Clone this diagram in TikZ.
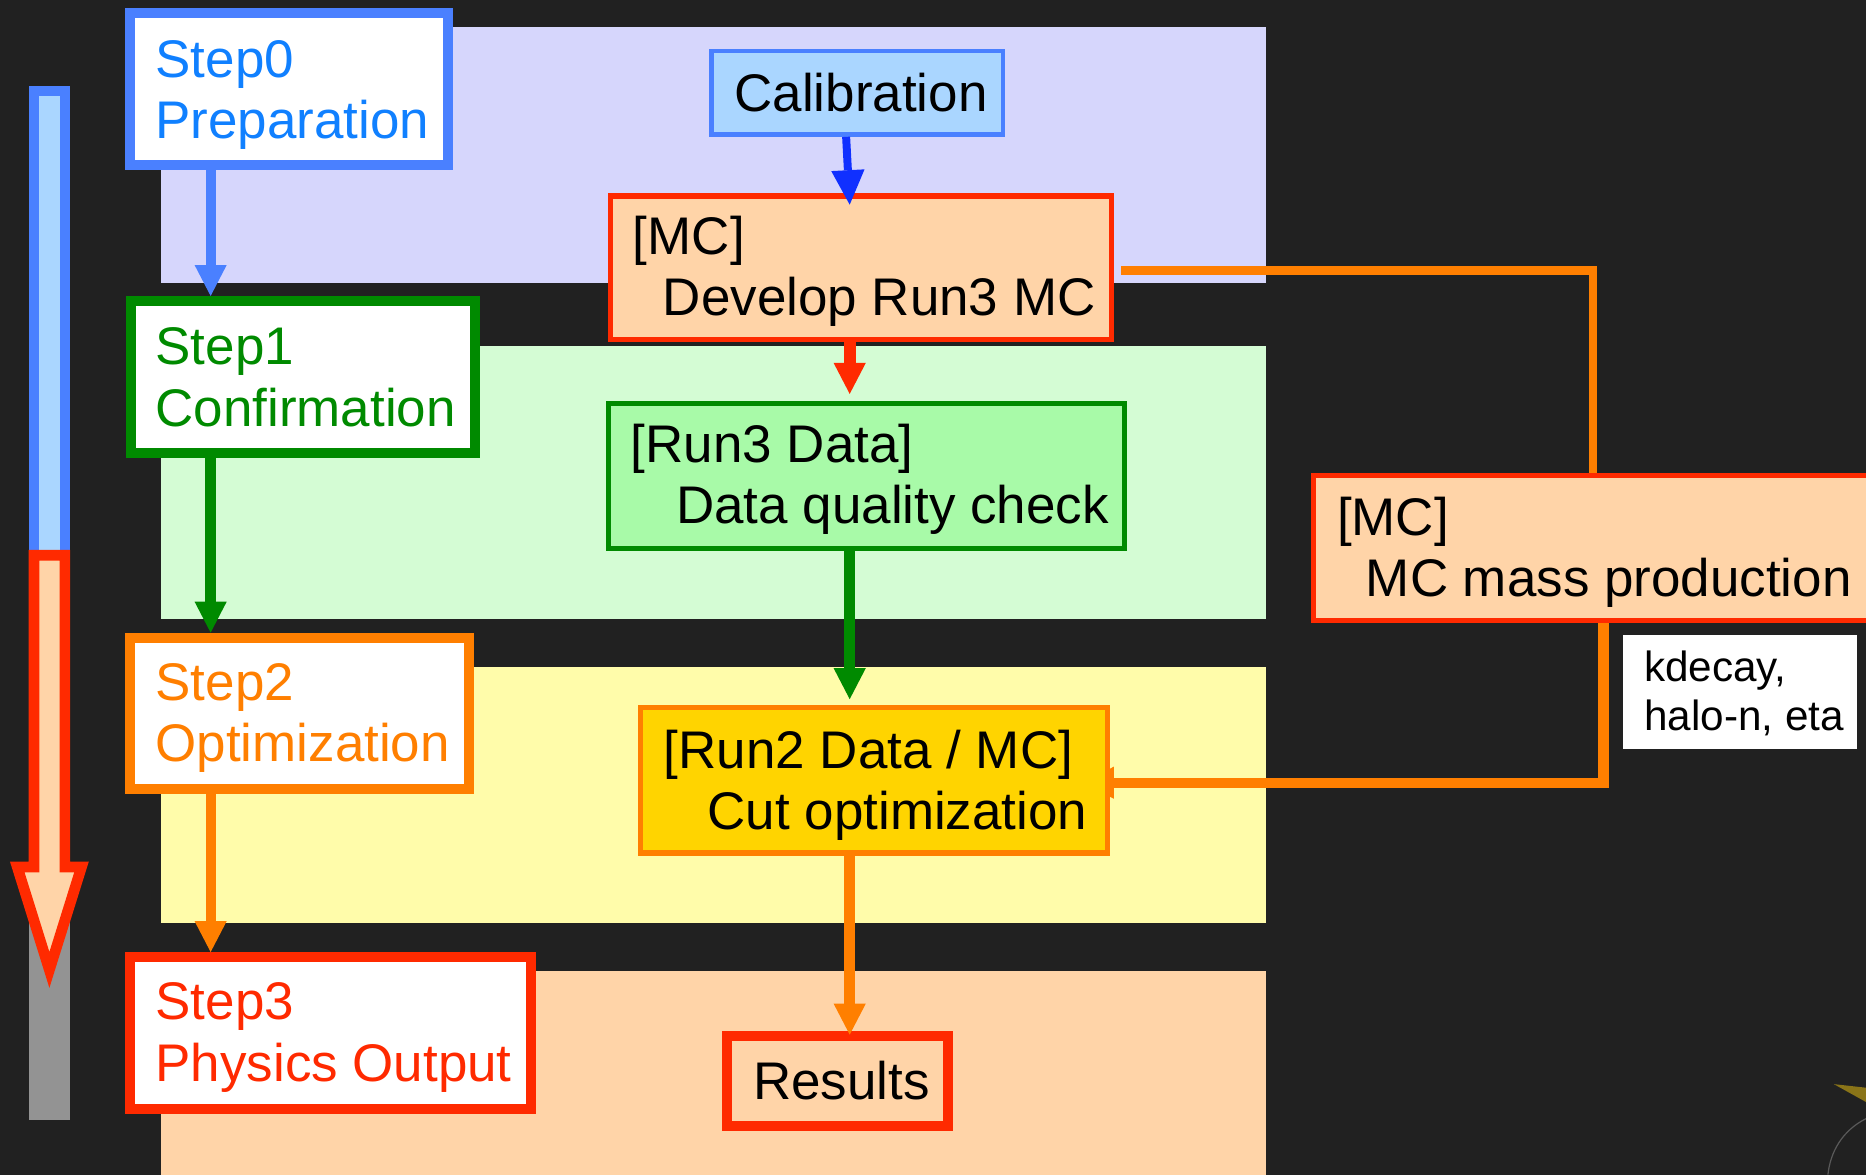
\documentclass[tikz,border=0pt]{standalone}
\usepackage{fontspec}
\setmainfont{Liberation Sans}
\usetikzlibrary{arrows.meta,calc}
\pgfdeclarelayer{bands}
\pgfdeclarelayer{conn}
\pgfsetlayers{bands,conn,main}
\definecolor{bgc}{HTML}{212121}
\definecolor{clav}{RGB}{214,214,252}
\definecolor{cgband}{RGB}{212,252,212}
\definecolor{cyel}{RGB}{255,252,170}
\definecolor{cpeach}{RGB}{255,212,168}
\definecolor{cblue}{RGB}{74,128,255}
\definecolor{cbluet}{RGB}{16,128,255}
\definecolor{cltblue}{RGB}{170,214,255}
\definecolor{cdblue}{RGB}{16,48,255}
\definecolor{cred}{RGB}{255,42,0}
\definecolor{corange}{RGB}{255,127,0}
\definecolor{cgreen}{RGB}{0,138,0}
\definecolor{cltgreen}{RGB}{168,250,168}
\definecolor{cgold}{RGB}{255,212,0}
\definecolor{cgrey}{RGB}{147,147,147}
\definecolor{cbeak}{RGB}{138,116,24}
\begin{document}
\begin{tikzpicture}[x=1pt,y=-1pt,
  stepbox/.style={draw, line width=8.5pt, fill=white, inner sep=0pt},
  midbox/.style={draw, line width=4.5pt, inner sep=0pt},
  txt/.style={inner sep=0pt, anchor=base west, font=\fontsize{44.5}{51}\selectfont},
  smalltxt/.style={inner sep=0pt, anchor=base west, font=\fontsize{35.5}{41}\selectfont},
  arr/.style={line width=9pt, -{Triangle[width=27pt,length=26pt,line width=0pt]}}
]
\useasboundingbox (0,0) rectangle (1568,987);
\begin{pgfonlayer}{bands}
  \fill[bgc] (0,0) rectangle (1568,987);
  \fill[clav] (135.3,22.5) rectangle (1064,237.5);
  \fill[cgband] (135.3,291) rectangle (1064,520);
  \fill[cyel] (135.3,560.5) rectangle (1064,775.5);
  \fill[cpeach] (135.3,815.6) rectangle (1064,987);
  % fragment of background logo
  \fill[cbeak] (1541,911) -- (1568,914) -- (1568,926) -- cycle;
  \draw[gray!60!bgc, line width=1pt] (1568,940) .. controls (1548,950) and (1538,968) .. (1536,987);
\end{pgfonlayer}

% progress bar at left
\filldraw[fill=cltblue, draw=cblue, line width=9pt] (28.5,76.5) rectangle (54.5,470);
\fill[cgrey] (24,700) rectangle (59,941);
\filldraw[fill=cpeach, draw=cred, line width=9pt, miter limit=10]
  (28.5,466.5) -- (54.5,466.5) -- (54.5,728.5) -- (68.5,728.5) -- (41.5,815)
  -- (14.5,728.5) -- (28.5,728.5) -- cycle;

% step boxes
\node[stepbox, draw=cblue, minimum width=267pt, minimum height=127.5pt] (s0) at (242.75,75) {};
\node[stepbox, draw=cgreen, minimum width=289.6pt, minimum height=127.8pt] (s1) at (254.65,316.85) {};
\node[stepbox, draw=corange, minimum width=284.8pt, minimum height=126.9pt] (s2) at (251.35,599.3) {};
\node[stepbox, draw=cred, minimum width=337pt, minimum height=127.9pt] (s3) at (277.45,868.2) {};
\node[txt, text=cbluet] (s0a) at (130.5,65) {Step0};
\node[txt, text=cbluet] (s0b) at (130.5,116) {Preparation};
\node[txt, text=cgreen] (s1a) at (130.5,306.7) {Step1};
\node[txt, text=cgreen] (s1b) at (130.5,358) {Confirmation};
\node[txt, text=corange] (s2a) at (130.5,588.4) {Step2};
\node[txt, text=corange] (s2b) at (130.5,640) {Optimization};
\node[txt, text=cred] (s3a) at (130.5,857) {Step3};
\node[txt, text=cred] (s3b) at (130.5,908.5) {Physics Output};

% middle column boxes
\node[midbox, draw=cblue, fill=cltblue, line width=3.8pt, minimum width=244.8pt, minimum height=70.2pt] (cal) at (720.3,78) {};
\node[midbox, draw=cred, fill=cpeach, minimum width=421.3pt, minimum height=120.8pt] (dev) at (723.6,225.15) {};
\node[midbox, draw=cgreen, fill=cltgreen, minimum width=433.5pt, minimum height=121.5pt] (run3) at (728,400) {};
\node[midbox, draw=corange, fill=cgold, minimum width=392.5pt, minimum height=122.5pt] (run2) at (734.5,655.5) {};
\node[stepbox, draw=cred, fill=cpeach, line width=8.6pt, minimum width=185.8pt, minimum height=75.5pt] (res) at (703.6,908.45) {};
\node[midbox, draw=cred, fill=cpeach, line width=4.3pt, minimum width=474.5pt, minimum height=121.8pt] (mcm) at (1340.6,460.65) {};
\node[fill=white, inner sep=0pt, minimum width=196pt, minimum height=95.7pt] (kd) at (1462,581.65) {};

\node[txt] (calt) at (617,94) {Calibration};
\node[txt] (deva) at (531.7,214) {[MC]};
\node[txt] (devb) at (556.8,265.3) {Develop Run3 MC};
\node[txt] (r3a) at (530,389) {[Run3 Data]};
\node[txt] (r3b) at (568,440) {Data quality check};
\node[txt] (r2a) at (557.7,645.4) {[Run2 Data / MC]};
\node[txt] (r2b) at (594.4,696.7) {Cut optimization};
\node[txt] (rest) at (632.6,923.9) {Results};
\node[txt] (mca) at (1123.4,450) {[MC]};
\node[txt] (mcb) at (1147.6,501) {MC mass production};
\node[smalltxt] (kda) at (1381.4,573) {kdecay,};
\node[smalltxt] (kdb) at (1381.4,613.7) {halo-n, eta};

% column coordinates
\coordinate (cL) at (177,0);
\coordinate (cM) at (714,0);
\coordinate (cR1) at (1338.6,0);
\coordinate (cR2) at (1347.5,0);

% left chain arrows
\draw[arr, cblue, line width=8.6pt] (s0.south -| cL) -- (s1.north -| cL);
\draw[arr, cgreen] (s1.south -| cL) -- (s2.north -| cL);
\draw[arr, corange, line width=8.6pt] (s2.south -| cL) -- (s3.north -| cL);

% middle chain arrows
\draw[cdblue, line width=6.7pt, -{Triangle[width=28pt,length=29pt,line width=0pt]}]
  ($(cal.south)+(-9.3,0)$) -- ($(dev.north -| cM)+(0,9.5)$);
\draw[arr, cred, line width=10pt] (dev.south -| cM) -- ($(run3.north -| cM)+(0,-6)$);
\draw[arr, cgreen] (run3.south -| cM) -- ($(run2.north -| cM)+(0,-4.5)$);
\draw[arr, corange, line width=9.5pt] (run2.south -| cM) -- ($(res.north -| cM)+(0,3)$);

% connectors to and from MC mass production (behind the boxes)
\begin{pgfonlayer}{conn}
  \draw[corange, line width=7.5pt] ($(dev.east)+(5.5,2.5)$) -| (mcm.north -| cR1);
  \draw[arr, corange, line width=8.6pt] (mcm.south -| cR2) |- ($(run2.east)+(-23,2.2)$);
\end{pgfonlayer}
\end{tikzpicture}
\end{document}
